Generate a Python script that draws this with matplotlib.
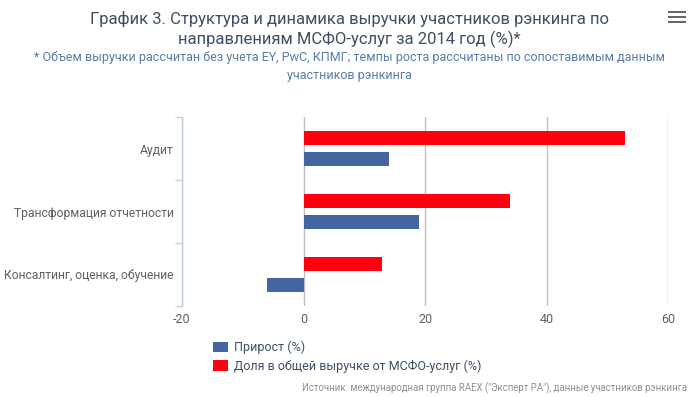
import matplotlib.pyplot as plt
from matplotlib.patches import Patch, Rectangle
import numpy as np

plt.rcParams['font.family'] = ['Roboto', 'DejaVu Sans']

# Data
categories = ['Аудит', 'Трансформация отчетности', 'Консалтинг, оценка, обучение']
growth = [14, 19, -6]          # Прирост (%)
share = [53, 34, 13]           # Доля в общей выручке от МСФО-услуг (%)
x_ticks = [-20, 0, 20, 40, 60]

blue = '#44659F'
red = '#FF0010'
title_color = '#3E4F63'
sub_color = '#5A7BA6'
label_color = '#606060'


def make_chart():
    fig = plt.figure(figsize=(6.98, 3.97), dpi=100)
    ax = fig.add_axes([182 / 698, 1 - 306 / 397, 486 / 698, 189 / 397])

    y = np.arange(len(categories))
    ax.barh(y - 0.16, share, height=0.22, color=red, zorder=3)
    ax.barh(y + 0.16, growth, height=0.22, color=blue, zorder=3)

    ax.set_xlim(-20, 60)
    ax.set_ylim(len(categories) - 0.5, -0.5)
    ax.set_xticks(x_ticks)
    ax.set_xticklabels([str(t) for t in x_ticks])
    ax.set_yticks(y)
    ax.set_yticklabels(categories)
    ax.set_yticks(np.arange(-0.5, len(categories), 1.0), minor=True)

    ax.grid(axis='x', color='#C0C0C0', linewidth=1, zorder=0)
    for s in ['top', 'right', 'bottom']:
        ax.spines[s].set_visible(False)
    ax.spines['left'].set_color('#C0D0E0')
    ax.spines['left'].set_linewidth(1)

    ax.tick_params(axis='x', length=0, pad=5, labelsize=9, labelcolor=label_color)
    ax.tick_params(axis='y', which='major', length=0, pad=6, labelsize=8.7, labelcolor=label_color)
    ax.tick_params(axis='y', which='minor', length=5, width=1, color='#C0D0E0')

    # Titles
    fig.text(0.5, 1 - 19 / 397, 'График 3. Структура и динамика выручки участников рэнкинга по',
             ha='center', va='center', fontsize=12, color=title_color)
    fig.text(0.5, 1 - 39 / 397, 'направлениям МСФО-услуг за 2014 год (%)*',
             ha='center', va='center', fontsize=12, color=title_color)
    fig.text(0.5, 1 - 58 / 397, '* Объем выручки рассчитан без учета EY, PwC, КПМГ; темпы роста рассчитаны по сопоставимым данным',
             ha='center', va='center', fontsize=9, color=sub_color)
    fig.text(0.5, 1 - 75 / 397, 'участников рэнкинга',
             ha='center', va='center', fontsize=9, color=sub_color)

    # Legend
    handles = [Patch(facecolor=blue, edgecolor='none', label='Прирост (%)'),
               Patch(facecolor=red, edgecolor='none', label='Доля в общей выручке от МСФО-услуг (%)')]
    leg = fig.legend(handles=handles, loc='upper left', bbox_to_anchor=(208 / 698, 1 - 336 / 397),
                     frameon=False, fontsize=9, handlelength=1.2, handleheight=0.9,
                     handletextpad=0.5, labelspacing=0.4, borderaxespad=0)
    for t in leg.get_texts():
        t.set_color(title_color)

    # Source note
    fig.text(687 / 698, 1 - 388 / 397,
             'Источник: международная группа RAEX ("Эксперт РА"), данные участников рэнкинга',
             ha='right', va='center', fontsize=6.9, color='#909090')

    # Menu icon
    for yy in [12, 17, 22]:
        fig.patches.append(Rectangle((668 / 698, 1 - (yy + 1.25) / 397), 18 / 698, 2.5 / 397,
                                     transform=fig.transFigure, facecolor='#666666',
                                     edgecolor='none', linewidth=0))

    fig.savefig('out.png', dpi=100)
    plt.close(fig)


make_chart()
